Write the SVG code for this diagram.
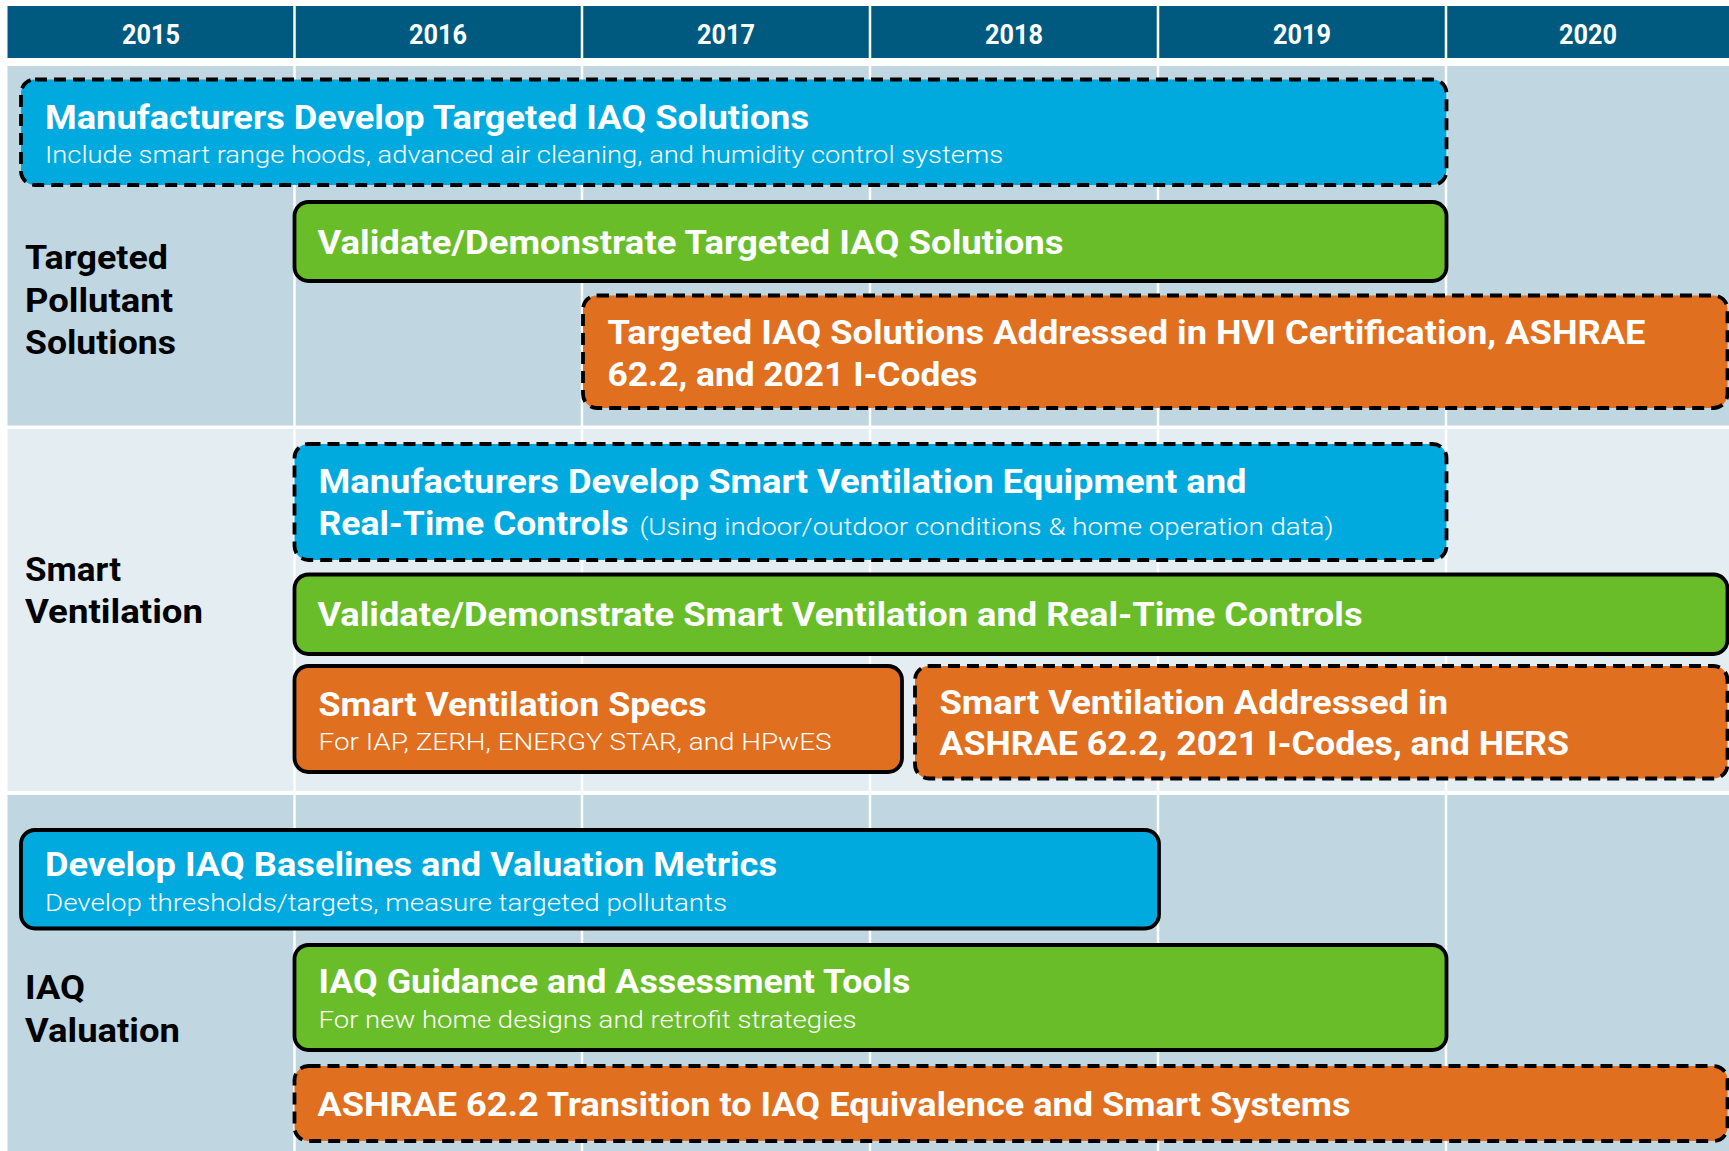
<svg xmlns="http://www.w3.org/2000/svg" width="1729" height="1151" viewBox="0 0 1729 1151">
<style>
.hdr{fill:#005a80}
.yr{font-family:Roboto,"Liberation Sans",sans-serif;font-weight:700;font-size:27px;fill:#fff;text-anchor:middle}
.bg1{fill:#c0d6e0}
.bg2{fill:#e4edf1}
.grid{stroke:#fff;stroke-width:2.5}
.box{stroke:#000;stroke-width:3.8}
.dash{stroke-dasharray:12 7}
.blue{fill:#00aadf}
.green{fill:#69bd28}
.orange{fill:#e06f20}
.t{font-family:Roboto,"Liberation Sans",sans-serif;font-weight:700;font-size:33px;fill:#fff}
.s{font-family:Roboto,"Liberation Sans",sans-serif;font-weight:300;font-size:23.5px;fill:#fff}
.lbl{font-family:Roboto,"Liberation Sans",sans-serif;font-weight:700;font-size:34px;fill:#000}
</style>
<rect width="1729" height="1151" fill="#fff"/>
<g id="background">
<rect class="hdr" x="7.5" y="6" width="1722" height="52"/>
<rect class="bg1" x="7.5" y="66" width="1722" height="359.5"/>
<rect class="bg2" x="7.5" y="429" width="1722" height="362"/>
<rect class="bg1" x="7.5" y="795" width="1722" height="356"/>
<g class="grid">
<line x1="294.5" y1="6" x2="294.5" y2="1151"/>
<line x1="582" y1="6" x2="582" y2="1151"/>
<line x1="870" y1="6" x2="870" y2="1151"/>
<line x1="1158" y1="6" x2="1158" y2="1151"/>
<line x1="1446" y1="6" x2="1446" y2="1151"/>
</g>
</g>
<g id="years">
<text class="yr" x="151" y="44" textLength="58" lengthAdjust="spacingAndGlyphs">2015</text>
<text class="yr" x="438" y="44" textLength="58" lengthAdjust="spacingAndGlyphs">2016</text>
<text class="yr" x="726" y="44" textLength="58" lengthAdjust="spacingAndGlyphs">2017</text>
<text class="yr" x="1014" y="44" textLength="58" lengthAdjust="spacingAndGlyphs">2018</text>
<text class="yr" x="1302" y="44" textLength="58" lengthAdjust="spacingAndGlyphs">2019</text>
<text class="yr" x="1588" y="44" textLength="58" lengthAdjust="spacingAndGlyphs">2020</text>
</g>
<g id="label-targeted">
<text class="lbl" x="25" y="269" textLength="143" lengthAdjust="spacingAndGlyphs">Targeted</text>
<text class="lbl" x="25" y="312" textLength="148" lengthAdjust="spacingAndGlyphs">Pollutant</text>
<text class="lbl" x="25" y="354" textLength="151" lengthAdjust="spacingAndGlyphs">Solutions</text>
</g>
<g id="label-smart">
<text class="lbl" x="25" y="581" textLength="96" lengthAdjust="spacingAndGlyphs">Smart</text>
<text class="lbl" x="25" y="623" textLength="178" lengthAdjust="spacingAndGlyphs">Ventilation</text>
</g>
<g id="label-iaq">
<text class="lbl" x="25" y="999" textLength="60" lengthAdjust="spacingAndGlyphs">IAQ</text>
<text class="lbl" x="25" y="1042" textLength="155" lengthAdjust="spacingAndGlyphs">Valuation</text>
</g>
<g id="b1">
<rect class="box dash blue" x="21" y="79.5" width="1425.5" height="105.5" rx="14"/>
<text class="t" x="45" y="129" textLength="764" lengthAdjust="spacingAndGlyphs">Manufacturers Develop Targeted IAQ Solutions</text>
<text class="s" x="45" y="163" textLength="958" lengthAdjust="spacingAndGlyphs">Include smart range hoods, advanced air cleaning, and humidity control systems</text>
</g>
<g id="b2">
<rect class="box green" x="294.5" y="202" width="1152" height="79" rx="14"/>
<text class="t" x="317.5" y="253.5" textLength="746" lengthAdjust="spacingAndGlyphs">Validate/Demonstrate Targeted IAQ Solutions</text>
</g>
<g id="b3">
<rect class="box dash orange" x="583" y="295.5" width="1144.5" height="112.5" rx="14"/>
<text class="t" x="607.5" y="344" textLength="1038" lengthAdjust="spacingAndGlyphs">Targeted IAQ Solutions Addressed in HVI Certification, ASHRAE</text>
<text class="t" x="607.5" y="386" textLength="370" lengthAdjust="spacingAndGlyphs">62.2, and 2021 I-Codes</text>
</g>
<g id="b4">
<rect class="box dash blue" x="294.5" y="444" width="1152" height="116" rx="14"/>
<text class="t" x="318.5" y="493" textLength="928" lengthAdjust="spacingAndGlyphs">Manufacturers Develop Smart Ventilation Equipment and</text>
<text class="t" x="318.5" y="535" textLength="310" lengthAdjust="spacingAndGlyphs">Real-Time Controls</text>
<text class="s" x="639.5" y="535" textLength="694" lengthAdjust="spacingAndGlyphs">(Using indoor/outdoor conditions &amp; home operation data)</text>
</g>
<g id="b5">
<rect class="box green" x="294.5" y="574.5" width="1433" height="79.5" rx="14"/>
<text class="t" x="317.5" y="626" textLength="1045" lengthAdjust="spacingAndGlyphs">Validate/Demonstrate Smart Ventilation and Real-Time Controls</text>
</g>
<g id="b6">
<rect class="box orange" x="294.5" y="666" width="607.5" height="106" rx="14"/>
<text class="t" x="318.5" y="715.5" textLength="388" lengthAdjust="spacingAndGlyphs">Smart Ventilation Specs</text>
<text class="s" x="318.5" y="750" textLength="513" lengthAdjust="spacingAndGlyphs">For IAP, ZERH, ENERGY STAR, and HPwES</text>
</g>
<g id="b7">
<rect class="box dash orange" x="915" y="666" width="812.5" height="112.5" rx="14"/>
<text class="t" x="939.5" y="713.5" textLength="508.5" lengthAdjust="spacingAndGlyphs">Smart Ventilation Addressed in</text>
<text class="t" x="939.5" y="755" textLength="629.5" lengthAdjust="spacingAndGlyphs">ASHRAE 62.2, 2021 I-Codes, and HERS</text>
</g>
<g id="b8">
<rect class="box blue" x="21" y="830" width="1138" height="98.5" rx="14"/>
<text class="t" x="45" y="875.5" textLength="732" lengthAdjust="spacingAndGlyphs">Develop IAQ Baselines and Valuation Metrics</text>
<text class="s" x="45" y="911" textLength="682" lengthAdjust="spacingAndGlyphs">Develop thresholds/targets, measure targeted pollutants</text>
</g>
<g id="b9">
<rect class="box green" x="294.5" y="945" width="1152" height="105" rx="14"/>
<text class="t" x="318.5" y="992.5" textLength="592" lengthAdjust="spacingAndGlyphs">IAQ Guidance and Assessment Tools</text>
<text class="s" x="318.5" y="1027.5" textLength="538" lengthAdjust="spacingAndGlyphs">For new home designs and retrofit strategies</text>
</g>
<g id="b10">
<rect class="box dash orange" x="294.5" y="1066" width="1433" height="75" rx="14"/>
<text class="t" x="317.5" y="1116" textLength="1033" lengthAdjust="spacingAndGlyphs">ASHRAE 62.2 Transition to IAQ Equivalence and Smart Systems</text>
</g>
</svg>
